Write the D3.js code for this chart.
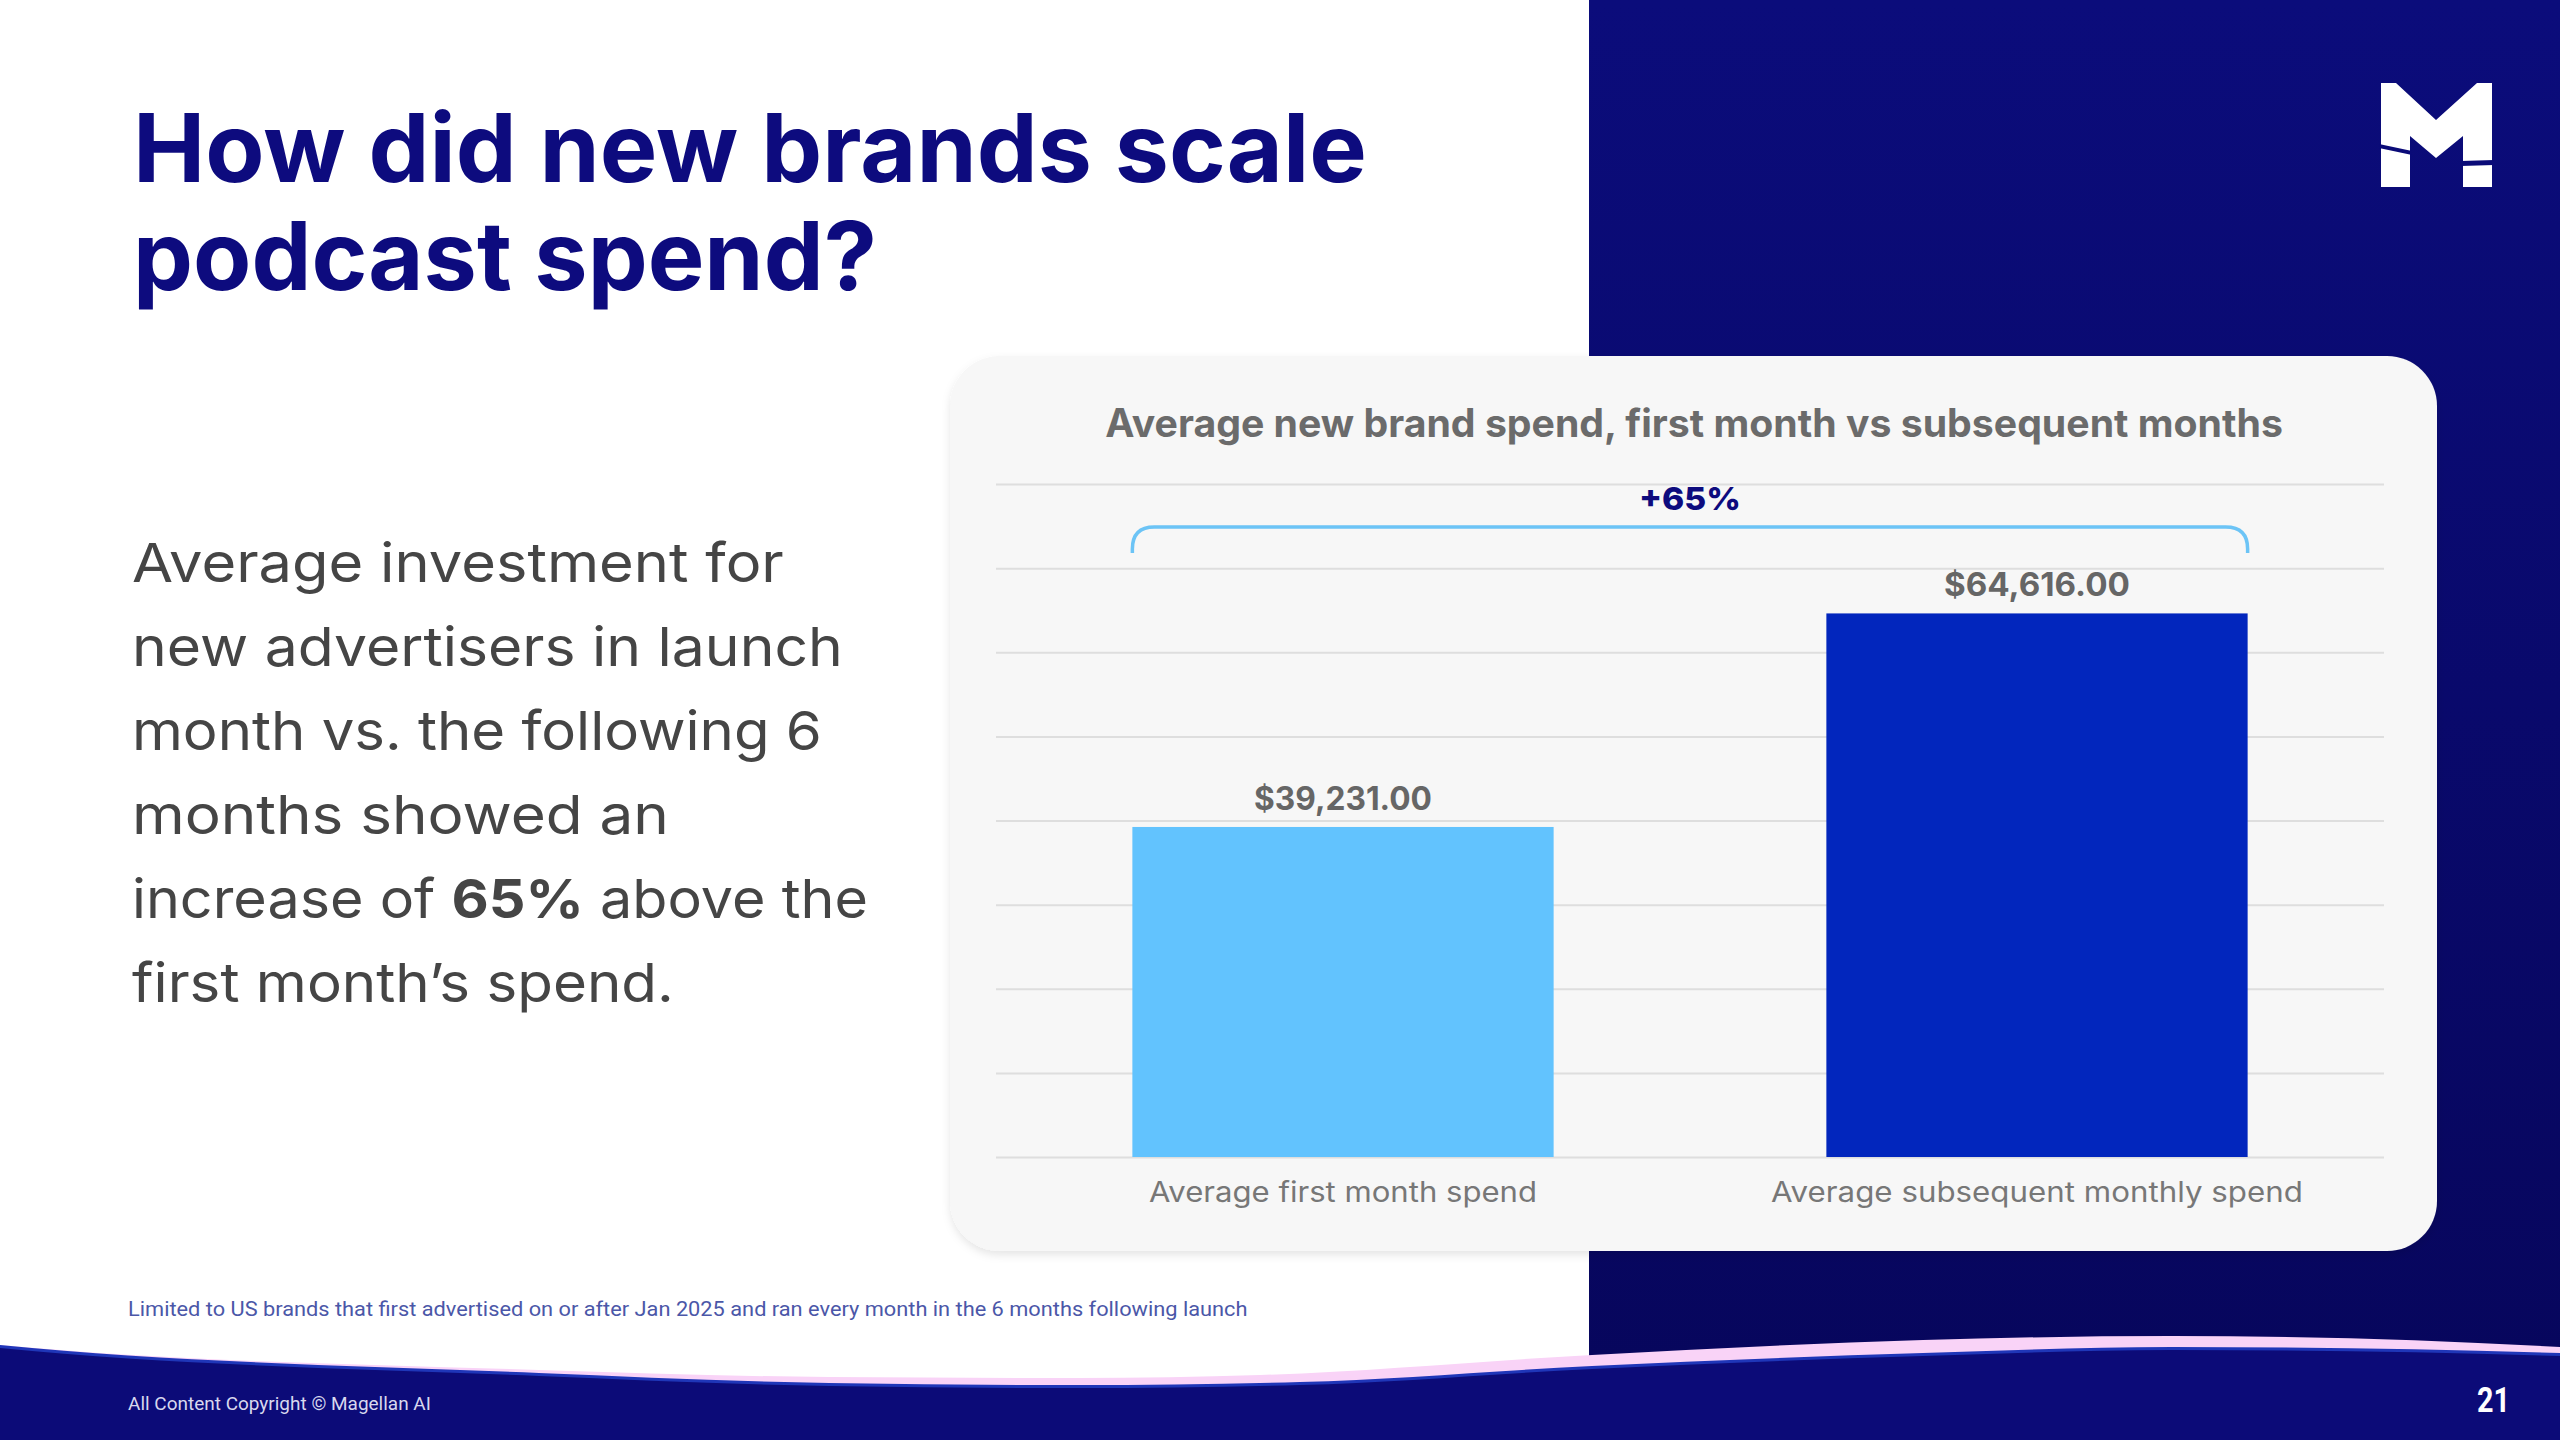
<!DOCTYPE html>
<html>
<head>
<meta charset="utf-8">
<script src="https://cdn.jsdelivr.net/npm/d3@7"></script>
<style>
  html, body { margin: 0; padding: 0; background: #ffffff; }
  svg { display: block; }
</style>
</head>
<body>
<svg id="chart" width="2560" height="1440"></svg>
<script>
// ---------------- DATA ----------------
const categories = ["Average first month spend", "Average subsequent monthly spend"];
const spendValues = [39231, 64616];
const valueLabels = ["$39,231.00", "$64,616.00"];
const yTicks = [0, 10000, 20000, 30000, 40000, 50000, 60000, 70000, 80000];
const growthLabel = "+65%";
const titleLines = ["How did new brands scale", "podcast spend?"];
const chartTitle = "Average new brand spend, first month vs subsequent months";
const bodyLines = [
  [{t: "Average investment for"}],
  [{t: "new advertisers in launch"}],
  [{t: "month vs. the following 6"}],
  [{t: "months showed an"}],
  [{t: "increase of "}, {t: "65%", b: true}, {t: " above the"}],
  [{t: "first month\u2019s spend."}]
];
const footnote = "Limited to US brands that first advertised on or after Jan 2025 and ran every month in the 6 months following launch";
const copyright = "All Content Copyright \u00A9 Magellan AI";
const pageNumber = "21";

// ---------------- SETUP ----------------
const svg = d3.select("#chart");
const NAVY = "#0d0b7e";
const defs = svg.append("defs");

const grad = defs.append("linearGradient").attr("id", "panelGrad")
  .attr("x1", 0).attr("y1", 0).attr("x2", 0).attr("y2", 1);
grad.append("stop").attr("offset", "0%").attr("stop-color", "#0b0c7b");
grad.append("stop").attr("offset", "100%").attr("stop-color", "#07065c");

const shadow = defs.append("filter").attr("id", "cardShadow")
  .attr("x", "-5%").attr("y", "-5%").attr("width", "110%").attr("height", "115%");
shadow.append("feDropShadow").attr("dx", 0).attr("dy", 4).attr("stdDeviation", 4)
  .attr("flood-color", "#000").attr("flood-opacity", 0.10);

// helper: place text and fit it horizontally to a target width
function placeText(g, opts) {
  const t = g.append("text")
    .attr("x", 0).attr("y", 0)
    .attr("text-anchor", opts.anchor || "start")
    .style("font-family", opts.font || "Inter")
    .style("font-size", opts.size + "px")
    .style("font-weight", opts.weight || 400)
    .attr("fill", opts.fill);
  if (opts.parts) {
    opts.parts.forEach(p => t.append("tspan").text(p.t)
      .style("font-weight", p.b ? 700 : (opts.weight || 400)));
  } else {
    t.text(opts.text);
  }
  let sx = 1;
  if (opts.width) {
    const w = t.node().getBBox().width;
    if (w > 0) sx = opts.width / w;
  }
  t.attr("transform", `translate(${opts.x},${opts.y}) scale(${sx},1)`);
  return t;
}

// ---------------- BACKGROUND ----------------
svg.append("rect").attr("x", 0).attr("y", 0).attr("width", 2560).attr("height", 1440).attr("fill", "#ffffff");
svg.append("rect").attr("x", 1589).attr("y", 0).attr("width", 971).attr("height", 1400).attr("fill", "url(#panelGrad)");

// Logo "M"
const logo = svg.append("g");
logo.append("path").attr("fill", "#ffffff")
  .attr("d", "M2381,83 L2396,83 L2436,120 L2477,83 L2492,83 L2492,187 L2463,187 L2463,136 L2436,158 L2410,136 L2410,187 L2381,187 Z");
logo.append("path").attr("fill", "#0a0b78").attr("d", "M2379,144 L2412,151 L2412,155 L2379,148 Z");
logo.append("path").attr("fill", "#0a0b78").attr("d", "M2461,161 L2494,160 L2494,165 L2461,166 Z");

// ---------------- TITLE & BODY ----------------
const titleWidths = [1234, 744];
const titleBase = [182, 290];
titleLines.forEach((line, i) => {
  placeText(svg, {text: line, x: 133, y: titleBase[i], size: 95, weight: 700,
    fill: NAVY, width: titleWidths[i]});
});

const bodyWidths = [652, 711, 690, 537, 736, 542];
bodyLines.forEach((parts, i) => {
  placeText(svg, {parts: parts, x: 132, y: 582 + i * 84, size: 54, weight: 400,
    fill: "#454545", width: bodyWidths[i]});
});

// ---------------- CARD ----------------
svg.append("rect").attr("x", 950).attr("y", 356).attr("width", 1487).attr("height", 895)
  .attr("rx", 50).attr("ry", 50).attr("fill", "#f7f7f7").attr("filter", "url(#cardShadow)");

placeText(svg, {text: chartTitle, x: 1694, y: 437, size: 39, weight: 700,
  fill: "#6b6b6b", anchor: "middle", width: 1178});

// scales
const x = d3.scaleBand().domain(categories).range([996, 2384])
  .paddingInner(0.393).paddingOuter(0.1965);
const y = d3.scaleLinear().domain([0, 80000]).range([1157, 484]);

// gridlines via axis
const yAxis = d3.axisLeft(y).tickValues(yTicks).tickSize(-(2384 - 996)).tickFormat("");
const gAxis = svg.append("g").attr("transform", "translate(996,0)").call(yAxis);
gAxis.select(".domain").remove();
gAxis.selectAll(".tick line").attr("stroke", "#dedede").attr("stroke-width", 2);

// bars
const barColors = ["#62c3fe", "#0226bd"];
svg.append("g").selectAll("rect").data(spendValues).join("rect")
  .attr("x", (d, i) => x(categories[i]))
  .attr("y", d => y(d))
  .attr("width", x.bandwidth())
  .attr("height", d => y(0) - y(d))
  .attr("fill", (d, i) => barColors[i]);

// value labels
const valWidths = [178, 186];
spendValues.forEach((v, i) => {
  placeText(svg, {text: valueLabels[i], x: x(categories[i]) + x.bandwidth() / 2, y: y(v) - 17,
    size: 32, weight: 700, fill: "#666666", anchor: "middle", width: valWidths[i]});
});

// category labels
const catWidths = [388, 532];
categories.forEach((c, i) => {
  placeText(svg, {text: c, x: x(c) + x.bandwidth() / 2, y: 1202, size: 28, weight: 400,
    fill: "#777777", anchor: "middle", width: catWidths[i]});
});

// bracket
const bx1 = x(categories[0]);
const bx2 = x(categories[1]) + x.bandwidth();
const by = 527, bEnd = 553, r = 22;
svg.append("path")
  .attr("d", `M${bx1},${bEnd} L${bx1},${by + r} Q${bx1},${by} ${bx1 + r},${by} L${bx2 - r},${by} Q${bx2},${by} ${bx2},${by + r} L${bx2},${bEnd}`)
  .attr("fill", "none").attr("stroke", "#6cc4f6").attr("stroke-width", 3.5);

placeText(svg, {text: growthLabel, x: (bx1 + bx2) / 2, y: 510, size: 32, weight: 800,
  fill: NAVY, anchor: "middle", width: 102});

// ---------------- FOOTER WAVE ----------------
const pinkTop = [[-10,1344],[0,1345],[539,1370],[829,1377],[1078,1378],[1260,1375],[1592,1355],[1923,1340],[2172,1336],[2560,1347],[2570,1348]];
const darkTop = [[-10,1346],[0,1347],[539,1375],[829,1385],[1078,1387],[1300,1384],[1592,1368],[1923,1355],[2172,1349],[2560,1355],[2570,1356]];
const waveLine = d3.line().curve(d3.curveMonotoneX);
function closedShape(pts) {
  return waveLine(pts) + " L2570,1450 L-10,1450 Z";
}
svg.append("path").attr("d", closedShape(pinkTop)).attr("fill", "#f9d3f7");
svg.append("path").attr("d", closedShape(darkTop.map(p => [p[0], p[1] - 2]))).attr("fill", "#1f36b8");
svg.append("path").attr("d", closedShape(darkTop.map(p => [p[0], p[1] + 1]))).attr("fill", "#0c0b78");

placeText(svg, {text: footnote, font: "Roboto", x: 128, y: 1316, size: 20, weight: 400,
  fill: "#4b57a8", width: 1120});
placeText(svg, {text: copyright, font: "Roboto", x: 128, y: 1410, size: 19, weight: 400,
  fill: "#d8d8ee", width: 303});
placeText(svg, {text: pageNumber, font: "Roboto", x: 2510, y: 1412, size: 36, weight: 700,
  fill: "#ffffff", anchor: "end", width: 33});
</script>
</body>
</html>
